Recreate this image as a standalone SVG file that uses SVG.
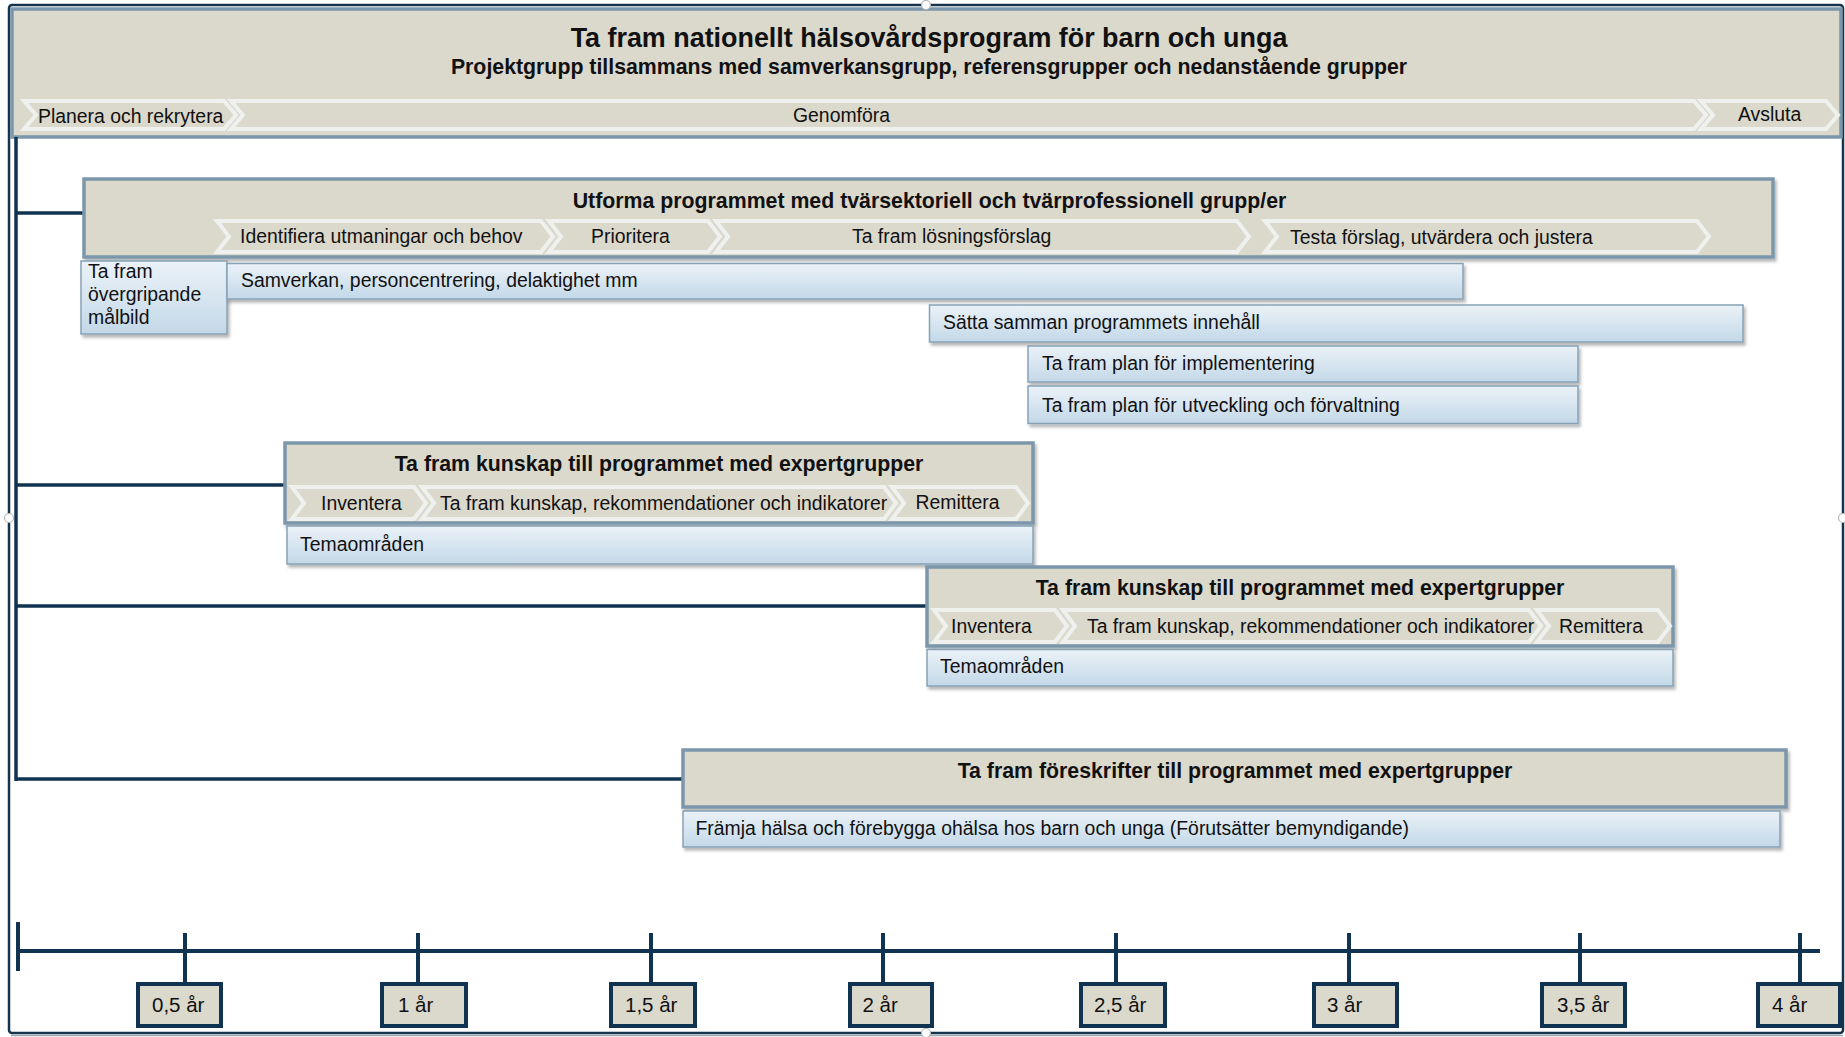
<svg xmlns="http://www.w3.org/2000/svg" width="1845" height="1037" viewBox="0 0 1845 1037">
<defs>
<linearGradient id="blue" x1="0" y1="0" x2="0" y2="1">
<stop offset="0" stop-color="#ebf2f8"/>
<stop offset="1" stop-color="#c3d8e8"/>
</linearGradient>
<filter id="sh" x="-5%" y="-20%" width="110%" height="150%">
<feDropShadow dx="2" dy="3" stdDeviation="1.8" flood-color="#000" flood-opacity="0.28"/>
</filter>
<style>
.band{fill:#dbd8cc;stroke:#7b97ab;stroke-width:3.5}
.chev{fill:#dbd8cc;stroke:#eef1ee;stroke-width:4}
.bar{fill:url(#blue);stroke:#87a2b6;stroke-width:1.5;filter:url(#sh)}
.ln{stroke:#0f3350;stroke-width:3.5;fill:none}
.ax{stroke:#0f3350;stroke-width:4;fill:none}
.lbl{fill:#dbd8cc;stroke:#0f3350;stroke-width:4}
text{font-family:"Liberation Sans",Arial,sans-serif;fill:#111}
.t{font-size:19.4px}
.tb{font-size:21.3px;font-weight:bold;text-anchor:middle}
.h1{font-size:26.9px;font-weight:bold;text-anchor:middle}
.ha{font-size:20.5px}
</style>
</defs>

<g id="frame">
<rect x="9" y="5" width="1834" height="1028" rx="3" fill="#fff" stroke="#14344e" stroke-width="2.5"/>
<line x1="11" y1="1035.5" x2="1843" y2="1035.5" stroke="#9aa6b0" stroke-width="1.5"/>
</g>

<g id="header">
<rect class="band" x="12" y="9" width="1829" height="128"/>
<text class="h1" x="929" y="47">Ta fram nationellt hälsovårdsprogram för barn och unga</text>
<text class="tb" x="929" y="73.5">Projektgrupp tillsammans med samverkansgrupp, referensgrupper och nedanstående grupper</text>
<polygon class="chev" points="24,101 224,101 236,115 224,129 24,129 36,115"/>
<polygon class="chev" points="231,101 1694,101 1706,115 1694,129 231,129 243,115"/>
<polygon class="chev" points="1701,101 1826,101 1838,115 1826,129 1701,129 1713,115"/>
<text class="t" x="38" y="123">Planera och rekrytera</text>
<text class="t" x="793" y="122">Genomföra</text>
<text class="t" x="1738" y="121">Avsluta</text>
</g>

<g id="connectors">
<line class="ln" x1="16" y1="137" x2="16" y2="781"/>
<line class="ln" x1="16" y1="213" x2="84" y2="213"/>
<line class="ln" x1="16" y1="485" x2="285" y2="485"/>
<line class="ln" x1="16" y1="606" x2="927" y2="606"/>
<line class="ln" x1="16" y1="779" x2="683" y2="779"/>
</g>

<g id="utforma">
<rect class="band" x="84" y="179" width="1689" height="78" filter="url(#sh)"/>
<text class="tb" x="929.5" y="207.5">Utforma programmet med tvärsektoriell och tvärprofessionell grupp/er</text>
<polygon class="chev" points="217,221 541,221 553,236.5 541,252 217,252 229,236.5"/>
<polygon class="chev" points="549,221 708,221 720,236.5 708,252 549,252 561,236.5"/>
<polygon class="chev" points="716,221 1237,221 1249,236.5 1237,252 716,252 728,236.5"/>
<polygon class="chev" points="1265,221 1697,221 1709,236.5 1697,252 1265,252 1277,236.5"/>
<text class="t" x="240" y="243">Identifiera utmaningar och behov</text>
<text class="t" x="591" y="243">Prioritera</text>
<text class="t" x="852" y="243">Ta fram lösningsförslag</text>
<text class="t" x="1290" y="244">Testa förslag, utvärdera och justera</text>
</g>

<g id="malbild">
<rect class="bar" x="81" y="261" width="146" height="73"/>
<text class="t" x="88" y="277.5">Ta fram</text>
<text class="t" x="88" y="300.5">övergripande</text>
<text class="t" x="88" y="323.5">målbild</text>
</g>

<g id="samverkan">
<rect class="bar" x="227" y="263.5" width="1236" height="35.5"/>
<text class="t" x="241" y="287">Samverkan, personcentrering, delaktighet mm</text>
</g>

<g id="satta">
<rect class="bar" x="929.5" y="305" width="813.5" height="37"/>
<text class="t" x="943" y="329">Sätta samman programmets innehåll</text>
</g>

<g id="implementering">
<rect class="bar" x="1028" y="346" width="550" height="36"/>
<text class="t" x="1042" y="370">Ta fram plan för implementering</text>
</g>

<g id="utveckling">
<rect class="bar" x="1028" y="386" width="550" height="37.5"/>
<text class="t" x="1042" y="411.5">Ta fram plan för utveckling och förvaltning</text>
</g>

<g id="kunskap1">
<rect class="band" x="285" y="443" width="748" height="80" filter="url(#sh)"/>
<text class="tb" x="659" y="471">Ta fram kunskap till programmet med expertgrupper</text>
<polygon class="chev" points="292,487 414,487 426,503 414,519 292,519 304,503"/>
<polygon class="chev" points="422,487 884,487 896,503 884,519 422,519 434,503"/>
<polygon class="chev" points="892,487 1016,487 1028,503 1016,519 892,519 904,503"/>
<text class="t" x="321" y="509.5">Inventera</text>
<text class="t" x="440" y="509.5">Ta fram kunskap, rekommendationer och indikatorer</text>
<text class="t" x="915.5" y="509">Remittera</text>
</g>

<g id="tema1">
<rect class="bar" x="287" y="526" width="746" height="38"/>
<text class="t" x="300" y="551">Temaområden</text>
</g>

<g id="kunskap2">
<rect class="band" x="927" y="567" width="746" height="79" filter="url(#sh)"/>
<text class="tb" x="1300" y="594.5">Ta fram kunskap till programmet med expertgrupper</text>
<polygon class="chev" points="934,610 1055,610 1067,626 1055,642 934,642 946,626"/>
<polygon class="chev" points="1063,610 1529,610 1541,626 1529,642 1063,642 1075,626"/>
<polygon class="chev" points="1537,610 1658,610 1670,626 1658,642 1537,642 1549,626"/>
<text class="t" x="951" y="633">Inventera</text>
<text class="t" x="1087" y="632.5">Ta fram kunskap, rekommendationer och indikatorer</text>
<text class="t" x="1559" y="632.5">Remittera</text>
</g>

<g id="tema2">
<rect class="bar" x="927" y="649.5" width="746" height="36.5"/>
<text class="t" x="940" y="673">Temaområden</text>
</g>

<g id="foreskrifter">
<rect class="band" x="683" y="750" width="1103" height="57" filter="url(#sh)"/>
<text class="tb" x="1235" y="778">Ta fram föreskrifter till programmet med expertgrupper</text>
</g>

<g id="framja">
<rect class="bar" x="683" y="811" width="1097" height="36"/>
<text class="t" x="695.5" y="835">Främja hälsa och förebygga ohälsa hos barn och unga (Förutsätter bemyndigande)</text>
</g>

<g id="timeline">
<line class="ax" x1="17" y1="951" x2="1820" y2="951"/>
<line class="ax" x1="18" y1="922" x2="18" y2="971"/>
<line class="ax" x1="185" y1="933" x2="185" y2="984"/>
<line class="ax" x1="418" y1="933" x2="418" y2="984"/>
<line class="ax" x1="651" y1="933" x2="651" y2="984"/>
<line class="ax" x1="883" y1="933" x2="883" y2="984"/>
<line class="ax" x1="1116" y1="933" x2="1116" y2="984"/>
<line class="ax" x1="1349" y1="933" x2="1349" y2="984"/>
<line class="ax" x1="1580" y1="933" x2="1580" y2="984"/>
<line class="ax" x1="1800" y1="933" x2="1800" y2="984"/>
</g>

<g id="l05"><rect class="lbl" x="138" y="984" width="83" height="42"/><text class="ha" x="152" y="1012">0,5 år</text></g>
<g id="l1"><rect class="lbl" x="382" y="984" width="84" height="42"/><text class="ha" x="398" y="1012">1 år</text></g>
<g id="l15"><rect class="lbl" x="611" y="984" width="84" height="42"/><text class="ha" x="625" y="1012">1,5 år</text></g>
<g id="l2"><rect class="lbl" x="850" y="984" width="82" height="42"/><text class="ha" x="862.5" y="1012">2 år</text></g>
<g id="l25"><rect class="lbl" x="1081" y="984" width="84" height="42"/><text class="ha" x="1094" y="1012">2,5 år</text></g>
<g id="l3"><rect class="lbl" x="1314" y="984" width="83" height="42"/><text class="ha" x="1327" y="1012">3 år</text></g>
<g id="l35"><rect class="lbl" x="1542" y="984" width="83" height="42"/><text class="ha" x="1557" y="1012">3,5 år</text></g>
<g id="l4"><rect class="lbl" x="1758" y="984" width="82" height="42"/><text class="ha" x="1772" y="1012">4 år</text></g>

<g id="handles" fill="#fff" stroke="#b5b5b5" stroke-width="1.2">
<circle cx="926" cy="5" r="4.5"/>
<circle cx="9" cy="518" r="4.5"/>
<circle cx="1843" cy="518" r="4.5"/>
<circle cx="926" cy="1033" r="4.5"/>
</g>
</svg>
